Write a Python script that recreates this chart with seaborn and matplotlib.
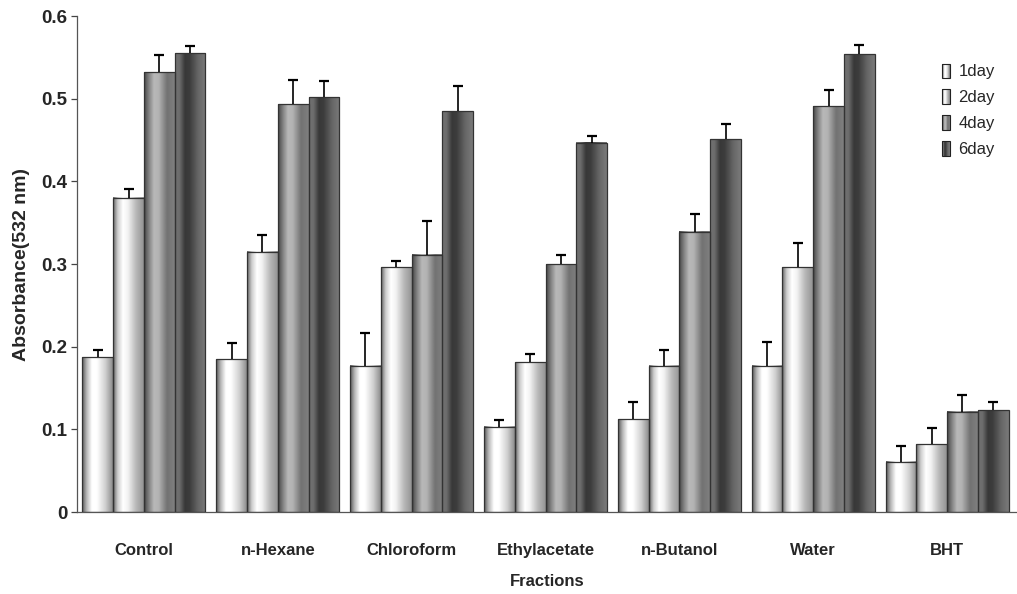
import numpy as np
import pandas as pd
import matplotlib
matplotlib.use("Agg")
import matplotlib.pyplot as plt
from matplotlib.patches import Rectangle
from matplotlib.legend_handler import HandlerBase
import seaborn as sns

# Data
fractions = ["Control", "n-Hexane", "Chloroform", "Ethylacetate", "n-Butanol", "Water", "BHT"]
days = ["1day", "2day", "4day", "6day"]

day1 = [0.187, 0.185, 0.177, 0.103, 0.112, 0.177, 0.061]
day2 = [0.380, 0.315, 0.296, 0.181, 0.177, 0.296, 0.082]
day4 = [0.532, 0.493, 0.311, 0.300, 0.339, 0.491, 0.121]
day6 = [0.555, 0.502, 0.485, 0.447, 0.451, 0.554, 0.123]

sd1 = [0.009, 0.020, 0.040, 0.008, 0.021, 0.029, 0.019]
sd2 = [0.011, 0.020, 0.008, 0.010, 0.019, 0.030, 0.020]
sd4 = [0.021, 0.030, 0.041, 0.011, 0.022, 0.020, 0.021]
sd6 = [0.009, 0.019, 0.030, 0.008, 0.019, 0.011, 0.010]

yticks = [0, 0.1, 0.2, 0.3, 0.4, 0.5, 0.6]
ytick_labels = ["0", "0.1", "0.2", "0.3", "0.4", "0.5", "0.6"]

# grey profiles across the width of each bar (cylinder look)
prof_pos = [0.0, 0.15, 0.32, 0.48, 0.75, 1.0]
profiles = {
    "1day": [0.35, 0.72, 1.0, 1.0, 0.82, 0.55],
    "2day": [0.40, 0.80, 1.0, 0.95, 0.72, 0.58],
    "4day": [0.28, 0.50, 0.72, 0.70, 0.45, 0.50],
    "6day": [0.45, 0.42, 0.22, 0.24, 0.40, 0.48],
}

df = pd.DataFrame({
    "fraction": np.repeat(fractions, 4),
    "day": days * len(fractions),
    "value": np.column_stack([day1, day2, day4, day6]).ravel(),
    "sd": np.column_stack([sd1, sd2, sd4, sd6]).ravel(),
})


def gradient(day, n=80):
    return np.interp(np.linspace(0, 1, n), prof_pos, profiles[day])


class HandlerGradient(HandlerBase):
    def __init__(self, day):
        super().__init__()
        self.day = day

    def create_artists(self, legend, orig_handle, xdescent, ydescent,
                       width, height, fontsize, trans):
        g = gradient(self.day, 8)
        artists = []
        w = width / len(g)
        for i, v in enumerate(g):
            artists.append(Rectangle((-xdescent + i * w, -ydescent), w, height,
                                     facecolor=str(v), edgecolor="none", transform=trans))
        artists.append(Rectangle((-xdescent, -ydescent), width, height, facecolor="none",
                                 edgecolor="#222222", linewidth=0.8, transform=trans))
        return artists


sns.set_theme(style="white")
plt.rcParams["font.family"] = ["Liberation Sans", "DejaVu Sans"]

fig = plt.figure(figsize=(10.17, 5.94), dpi=100)
ax = fig.add_axes([0.0757, 0.138, 0.924, 0.835])

sns.barplot(data=df, x="fraction", y="value", hue="day", width=0.92,
            palette=["white"] * 4, edgecolor="#333333", linewidth=0.9,
            legend=False, errorbar=None, ax=ax)

ax.set_xlim(-0.5, 6.52)
ax.set_ylim(0, 0.6)

# sort bars by position so that they line up with the flattened data order
patches = sorted(ax.patches, key=lambda p: p.get_x())
for p, (_, row) in zip(patches, df.iterrows()):
    x0, w, h = p.get_x(), p.get_width(), p.get_height()
    ax.imshow(gradient(row["day"])[np.newaxis, :], extent=[x0, x0 + w, 0, h],
              cmap="gray", vmin=0, vmax=1, aspect="auto", interpolation="bilinear", zorder=2)
    p.set_facecolor("none")
    p.set_zorder(3)
    _, caps, _ = ax.errorbar(x0 + w / 2, h, yerr=[[0], [row["sd"]]], fmt="none", ecolor="black",
                             elinewidth=1.2, capsize=3.3, capthick=1.6, zorder=4)
    caps[0].set_visible(False)  # only the upper whisker

ax.set_xlim(-0.5, 6.52)
ax.set_ylim(0, 0.6)

ax.set_yticks(yticks)
ax.set_yticklabels(ytick_labels, fontsize=13.5, fontweight="bold")
ax.tick_params(axis="y", direction="out", length=4, width=0.9, color="#444444", pad=3, left=True)
ax.tick_params(axis="x", length=0, pad=22)
for lbl in ax.get_xticklabels():
    lbl.set_fontsize(12)
    lbl.set_fontweight("bold")

sns.despine(ax=ax)
for s in ["left", "bottom"]:
    ax.spines[s].set_color("#555555")
    ax.spines[s].set_linewidth(0.9)

ax.set_xlabel("Fractions", fontsize=12, fontweight="bold", labelpad=12)
ax.set_ylabel("Absorbance(532 nm)", fontsize=14, fontweight="bold", labelpad=8)

handles = [Rectangle((0, 0), 1, 1) for _ in days]
fig.legend(handles, days, loc="upper left", bbox_to_anchor=(0.926, 0.893),
           frameon=False, fontsize=12, handlelength=0.5, handleheight=0.95,
           handletextpad=0.5, labelspacing=0.6, borderpad=0, borderaxespad=0,
           handler_map={h: HandlerGradient(d) for h, d in zip(handles, days)})

fig.savefig("out.png", dpi=100)
